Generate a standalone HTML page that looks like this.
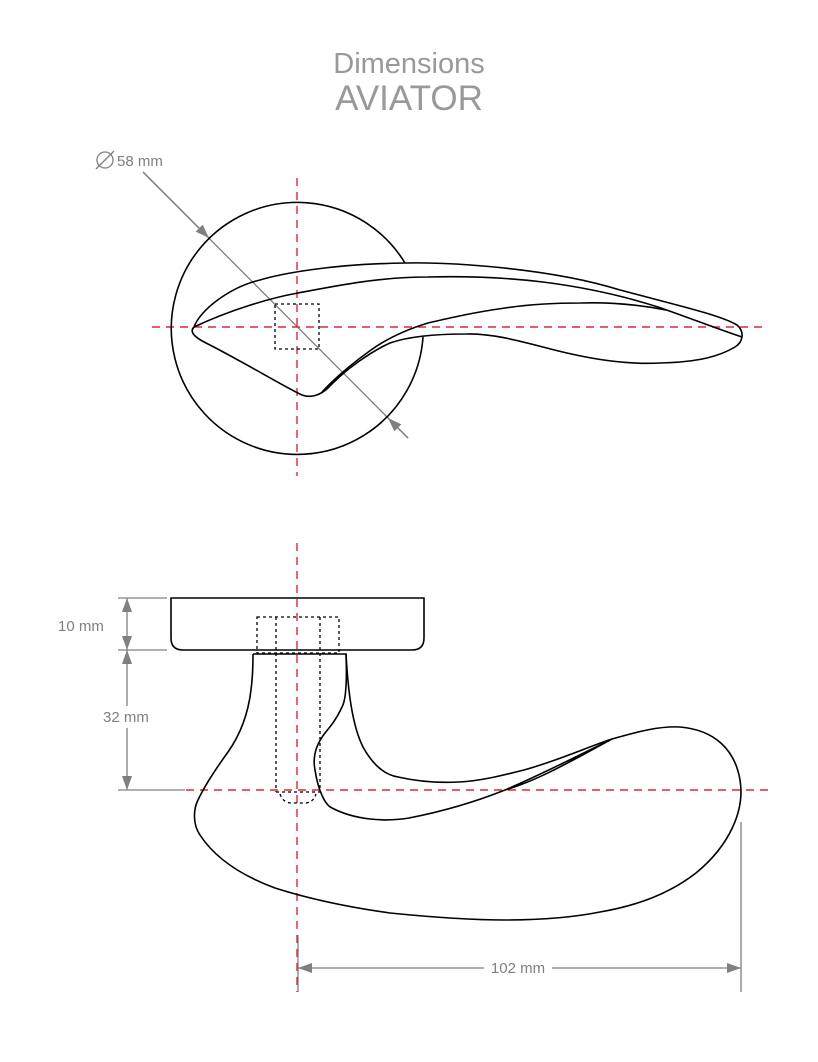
<!DOCTYPE html>
<html><head><meta charset="utf-8"><style>html,body{margin:0;padding:0;background:#fff}svg{display:block}</style></head>
<body>
<svg width="818" height="1062" viewBox="0 0 818 1062" xmlns="http://www.w3.org/2000/svg">
<defs>
<marker id="a" viewBox="0 0 14 10" refX="14" refY="5" markerWidth="14" markerHeight="10" markerUnits="userSpaceOnUse" orient="auto"><path d="M0,0 L14,5 L0,10 Z" fill="#808080"/></marker>
</defs>
<g font-family="Liberation Sans, sans-serif" fill="#999" text-anchor="middle">
<text x="409" y="73" font-size="29">Dimensions</text>
<text x="409" y="110" font-size="35">AVIATOR</text>
</g>
<g font-family="Liberation Sans, sans-serif" fill="#808080" font-size="15">
<text x="117" y="166">58 mm</text>
<text x="58" y="631">10 mm</text>
<text x="103" y="722">32 mm</text>
</g>
<g fill="none" stroke="#808080" stroke-width="1.3">
<circle cx="105" cy="160" r="8"/><line x1="96" y1="169" x2="114" y2="151"/>
<line x1="143" y1="172" x2="408" y2="438"/>
<line x1="143" y1="172" x2="209" y2="238" marker-end="url(#a)"/>
<line x1="408" y1="438" x2="388" y2="418" marker-end="url(#a)"/>
<line x1="118" y1="598" x2="167" y2="598"/>
<line x1="118" y1="650" x2="167" y2="650"/>
<line x1="118" y1="790" x2="185" y2="790"/>
<line x1="127" y1="624" x2="127" y2="598" marker-end="url(#a)"/>
<line x1="127" y1="624" x2="127" y2="650" marker-end="url(#a)"/>
<line x1="127" y1="706" x2="127" y2="650" marker-end="url(#a)"/>
<line x1="127" y1="728" x2="127" y2="790" marker-end="url(#a)"/>
<line x1="298" y1="935" x2="298" y2="992"/>
<line x1="741" y1="822" x2="741" y2="992"/>
<line x1="484" y1="968" x2="298" y2="968" marker-end="url(#a)"/>
<line x1="552" y1="968" x2="741" y2="968" marker-end="url(#a)"/>
</g>
<text x="518" y="973" font-family="Liberation Sans, sans-serif" fill="#808080" font-size="15" text-anchor="middle">102 mm</text>
<g fill="none" stroke="#e8262b" stroke-width="1.4" stroke-dasharray="8,6">
<line x1="297" y1="178" x2="297" y2="476"/>
<line x1="152" y1="327" x2="762" y2="327"/>
<line x1="297" y1="543" x2="297" y2="992"/>
<line x1="186" y1="790" x2="774" y2="790"/>
</g>
<g fill="none" stroke="#000" stroke-width="1.6">
<path d="M405,263 A126,126 0 1 0 423,337"/>
<path d="M194,327 C200,310 230,287 260,280 C280,274 330,264 405,263 C450,262 550,268 620,290 C680,306 720,315 737,325 C745,332 743,342 735,347 C720,356 700,362 660,363 C620,365 580,357 543,347 C520,341 490,333 466,334 C440,334 410,336 390,343 C370,352 345,370 329,387 C320,396 310,398 302,395 C290,390 240,360 206,343 C192,336 190,331 194,327 Z"/>
<path d="M194,327 C230,310 270,298 298,293 C340,285 380,277 428,277 C470,276 510,278 543,282 C590,288 630,298 658,307 C690,318 720,330 742,337"/>
<path d="M666,310 C640,305 610,302 581,303 C550,303 525,305 505,308 C470,313 450,318 428,323 C405,330 385,340 371,350 C350,365 335,378 322,392"/>
<path d="M171,598 L424,598 L424,638 Q424,650 412,650 L183,650 Q171,650 171,638 Z"/>
<path d="M253,654 L346,654 C347,680 346,700 342,707 C336,720 330,727 325,733 C318,742 312,755 315,770 C318,790 325,805 332,808 C355,820 385,822 409,818 C450,810 480,800 505,790 C540,775 580,755 612,739 C580,756 540,780 505,790"/>
<path d="M346,654 C348,690 352,725 363,747 C373,765 385,775 398,777 C420,782 440,783 459,782 C480,781 500,776 524,770 C560,760 590,746 612,739 C640,731 660,726 680,727 C715,730 735,750 740,780 C745,810 730,845 696,873 C670,893 640,905 600,912 C570,918 540,920 505,920 C470,920 430,917 390,913 C340,906 300,896 275,888 C240,875 215,858 200,835 C193,825 193,810 198,800 C205,785 215,770 228,752 C240,735 248,715 251,690 C253,675 253,665 253,654"/>
</g>
<g fill="none" stroke="#000" stroke-width="1.3" stroke-dasharray="3,3">
<rect x="275" y="304" width="44" height="45"/>
<rect x="257" y="617" width="82" height="36"/>
<line x1="276" y1="617" x2="276" y2="792"/>
<line x1="320" y1="617" x2="320" y2="792"/>
<line x1="276" y1="792" x2="320" y2="792"/>
<path d="M280,794 Q283,803 292,803 L305,803 Q313,803 316,794"/>
</g>
</svg>
</body></html>
